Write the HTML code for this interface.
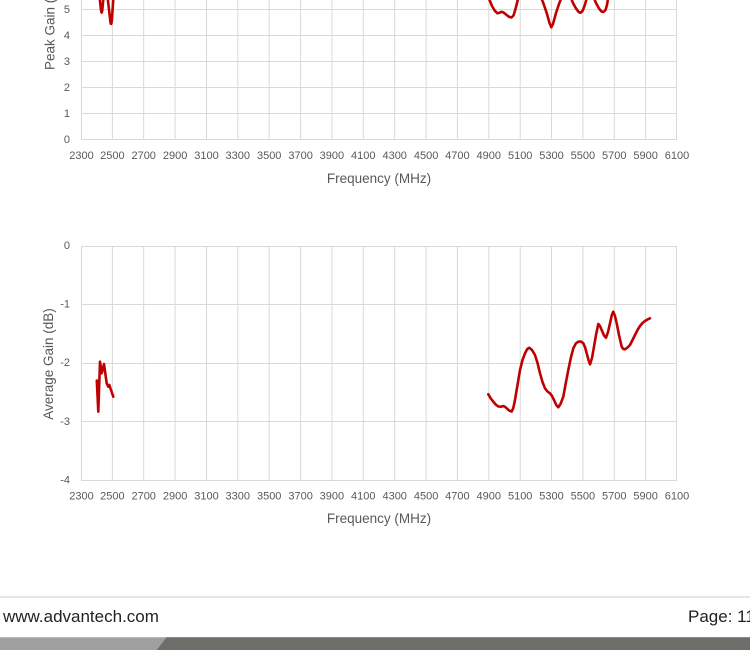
<!DOCTYPE html>
<html>
<head>
<meta charset="utf-8">
<style>
html,body{margin:0;padding:0;background:#fff;}
body{width:750px;height:650px;overflow:hidden;position:relative;}
svg{display:block;}
.t{font-family:"Liberation Sans",Arial,sans-serif;fill:#595959;}
</style>
</head>
<body>
<svg width="750" height="650" viewBox="0 0 750 650" xmlns="http://www.w3.org/2000/svg">
  <!-- ===== TOP CHART (Peak Gain) ===== -->
  <g stroke="#d9d9d9" stroke-width="1" fill="none">
    <!-- horizontal grid -->
    <line x1="81" y1="139.5" x2="677" y2="139.5"/>
    <line x1="81" y1="113.5" x2="677" y2="113.5"/>
    <line x1="81" y1="87.5" x2="677" y2="87.5"/>
    <line x1="81" y1="61.5" x2="677" y2="61.5"/>
    <line x1="81" y1="35.5" x2="677" y2="35.5"/>
    <line x1="81" y1="9.5" x2="677" y2="9.5"/>
    <!-- vertical grid -->
    <line x1="81.5" y1="-20" x2="81.5" y2="140"/>
    <line x1="112.4" y1="-20" x2="112.4" y2="140"/>
    <line x1="143.7" y1="-20" x2="143.7" y2="140"/>
    <line x1="175.1" y1="-20" x2="175.1" y2="140"/>
    <line x1="206.5" y1="-20" x2="206.5" y2="140"/>
    <line x1="237.8" y1="-20" x2="237.8" y2="140"/>
    <line x1="269.2" y1="-20" x2="269.2" y2="140"/>
    <line x1="300.6" y1="-20" x2="300.6" y2="140"/>
    <line x1="331.9" y1="-20" x2="331.9" y2="140"/>
    <line x1="363.3" y1="-20" x2="363.3" y2="140"/>
    <line x1="394.7" y1="-20" x2="394.7" y2="140"/>
    <line x1="426.1" y1="-20" x2="426.1" y2="140"/>
    <line x1="457.4" y1="-20" x2="457.4" y2="140"/>
    <line x1="488.8" y1="-20" x2="488.8" y2="140"/>
    <line x1="520.2" y1="-20" x2="520.2" y2="140"/>
    <line x1="551.5" y1="-20" x2="551.5" y2="140"/>
    <line x1="582.9" y1="-20" x2="582.9" y2="140"/>
    <line x1="614.3" y1="-20" x2="614.3" y2="140"/>
    <line x1="645.6" y1="-20" x2="645.6" y2="140"/>
    <line x1="676.5" y1="-20" x2="676.5" y2="140"/>
  </g>
  <!-- y tick labels top -->
  <g class="t" font-size="11" text-anchor="end" dominant-baseline="central">
    <text x="70" y="140">0</text>
    <text x="70" y="114">1</text>
    <text x="70" y="88">2</text>
    <text x="70" y="62">3</text>
    <text x="70" y="36">4</text>
    <text x="70" y="10">5</text>
  </g>
  <!-- x tick labels top -->
  <g class="t" font-size="11" text-anchor="middle" dominant-baseline="central">
    <text x="81.5" y="156">2300</text>
    <text x="112.4" y="156">2500</text>
    <text x="143.7" y="156">2700</text>
    <text x="175.1" y="156">2900</text>
    <text x="206.5" y="156">3100</text>
    <text x="237.8" y="156">3300</text>
    <text x="269.2" y="156">3500</text>
    <text x="300.6" y="156">3700</text>
    <text x="331.9" y="156">3900</text>
    <text x="363.3" y="156">4100</text>
    <text x="394.7" y="156">4300</text>
    <text x="426.1" y="156">4500</text>
    <text x="457.4" y="156">4700</text>
    <text x="488.8" y="156">4900</text>
    <text x="520.2" y="156">5100</text>
    <text x="551.5" y="156">5300</text>
    <text x="582.9" y="156">5500</text>
    <text x="614.3" y="156">5700</text>
    <text x="645.6" y="156">5900</text>
    <text x="677" y="156">6100</text>
  </g>
  <text class="t" font-size="13.5" x="379" y="178.5" text-anchor="middle" dominant-baseline="central">Frequency (MHz)</text>
  <text class="t" font-size="13.5" text-anchor="start" dominant-baseline="central" transform="translate(50,70) rotate(-90)">Peak Gain (dBi)</text>

  <!-- top curves -->
  <g stroke="#c00000" stroke-width="2.6" fill="none" stroke-linejoin="round" stroke-linecap="round">
    <path d="M99.2,-6 L101,10 Q101.6,15.5 102.3,10 L103.8,-6"/>
    <path d="M107.2,-6 L110.2,20 Q111,28 111.9,20 L113.6,-6"/>
    <polyline points="488.3,-3 492,6 495,11 497.5,13.3 499.5,12.8 501.5,11.8 503.5,12.5 506,14.5 509,16.8 511.5,17.5 513.5,15.5 515.5,9 517,3 518.5,-3"/>
    <polyline points="541,-3 544,5 547,14 549.5,23 551.3,27.3 553,24 556,13 559,4 561.7,-3"/>
    <polyline points="570.5,-3 573,3 576,8.5 578.5,11.8 580.5,12.8 582.5,11 584.5,6 586,1 587,-3"/>
    <polyline points="593.5,-3 596,3 599,8.5 601.5,11.5 603.5,12 605.5,10 607,5 608.3,-3"/>
  </g>

  <!-- ===== BOTTOM CHART (Average Gain) ===== -->
  <g stroke="#d9d9d9" stroke-width="1" fill="none">
    <line x1="81" y1="246.5" x2="677" y2="246.5"/>
    <line x1="81" y1="304.5" x2="677" y2="304.5"/>
    <line x1="81" y1="363.5" x2="677" y2="363.5"/>
    <line x1="81" y1="421.5" x2="677" y2="421.5"/>
    <line x1="81" y1="480.5" x2="677" y2="480.5"/>
    <line x1="81.5" y1="246" x2="81.5" y2="481"/>
    <line x1="112.4" y1="246" x2="112.4" y2="481"/>
    <line x1="143.7" y1="246" x2="143.7" y2="481"/>
    <line x1="175.1" y1="246" x2="175.1" y2="481"/>
    <line x1="206.5" y1="246" x2="206.5" y2="481"/>
    <line x1="237.8" y1="246" x2="237.8" y2="481"/>
    <line x1="269.2" y1="246" x2="269.2" y2="481"/>
    <line x1="300.6" y1="246" x2="300.6" y2="481"/>
    <line x1="331.9" y1="246" x2="331.9" y2="481"/>
    <line x1="363.3" y1="246" x2="363.3" y2="481"/>
    <line x1="394.7" y1="246" x2="394.7" y2="481"/>
    <line x1="426.1" y1="246" x2="426.1" y2="481"/>
    <line x1="457.4" y1="246" x2="457.4" y2="481"/>
    <line x1="488.8" y1="246" x2="488.8" y2="481"/>
    <line x1="520.2" y1="246" x2="520.2" y2="481"/>
    <line x1="551.5" y1="246" x2="551.5" y2="481"/>
    <line x1="582.9" y1="246" x2="582.9" y2="481"/>
    <line x1="614.3" y1="246" x2="614.3" y2="481"/>
    <line x1="645.6" y1="246" x2="645.6" y2="481"/>
    <line x1="676.5" y1="246" x2="676.5" y2="481"/>
  </g>
  <g class="t" font-size="11" text-anchor="end" dominant-baseline="central">
    <text x="70" y="246">0</text>
    <text x="70" y="304.6">-1</text>
    <text x="70" y="363.2">-2</text>
    <text x="70" y="421.8">-3</text>
    <text x="70" y="480.4">-4</text>
  </g>
  <g class="t" font-size="11" text-anchor="middle" dominant-baseline="central">
    <text x="81.5" y="496.7">2300</text>
    <text x="112.4" y="496.7">2500</text>
    <text x="143.7" y="496.7">2700</text>
    <text x="175.1" y="496.7">2900</text>
    <text x="206.5" y="496.7">3100</text>
    <text x="237.8" y="496.7">3300</text>
    <text x="269.2" y="496.7">3500</text>
    <text x="300.6" y="496.7">3700</text>
    <text x="331.9" y="496.7">3900</text>
    <text x="363.3" y="496.7">4100</text>
    <text x="394.7" y="496.7">4300</text>
    <text x="426.1" y="496.7">4500</text>
    <text x="457.4" y="496.7">4700</text>
    <text x="488.8" y="496.7">4900</text>
    <text x="520.2" y="496.7">5100</text>
    <text x="551.5" y="496.7">5300</text>
    <text x="582.9" y="496.7">5500</text>
    <text x="614.3" y="496.7">5700</text>
    <text x="645.6" y="496.7">5900</text>
    <text x="677" y="496.7">6100</text>
  </g>
  <text class="t" font-size="13.5" x="379" y="518.7" text-anchor="middle" dominant-baseline="central">Frequency (MHz)</text>
  <text class="t" font-size="13.5" text-anchor="middle" dominant-baseline="central" transform="translate(48.3,364) rotate(-90)">Average Gain (dB)</text>

  <g stroke="#c00000" stroke-width="2.6" fill="none" stroke-linejoin="round" stroke-linecap="round">
    <polyline points="96.8,380.5 98.3,411.7 100,361.7 101.7,373.3 104,364 106.7,383.3 108.3,386.7 109.3,385 113.3,396.7"/>
    <polyline points="488.3,394.3 490.8,398.5 493.3,401.7 495.8,404.6 498.3,406.5 501,406.7 503.3,406 505,406.8 506.7,408.3 509.3,410.6 511.7,411.5 513.3,408 515,400 517.5,385 520,370 522.5,360 525,353.3 527.3,349 529.3,347.7 532,350 535,355 537.5,363 540,373.3 542.5,382 545,388.3 547.5,391.5 550,393.3 552,396 554,400 556.3,405 558.3,407.3 560.5,404 563.3,396.7 565.8,383 568.3,370 570.8,358 573.3,348.3 575.8,343.5 578.3,341.7 581,341.5 583.3,343.3 585,347 586.7,353.3 588.5,360 590,364.3 592,358 594,346.7 596,335 598.3,324 600,326 601.7,330 604,335.5 606,337.7 608,332 610,323.3 611.8,315 613.3,311.7 615,316 616.7,323.3 619,335 621.7,346.7 623.3,349 625,349.3 627.5,347.5 630,345 632.5,340 635,335 637.5,330 640,326 642.5,323 645,321 647.5,319.5 650,318.3"/>
  </g>

  <!-- ===== FOOTER ===== -->
  <rect x="0" y="596" width="750" height="2" fill="#e6e6e6"/>
  <text x="3" y="622" font-family="'Liberation Sans',Arial,sans-serif" font-size="17" fill="#222">www.advantech.com</text>
  <text x="688" y="622" font-family="'Liberation Sans',Arial,sans-serif" font-size="17" fill="#222">Page: 11</text>
  <rect x="0" y="637" width="750" height="13" fill="#6e6e6a"/>
  <rect x="0" y="637" width="750" height="1" fill="#8a8a86"/>
  <polygon points="0,637 166.7,637 156.7,650 0,650" fill="#a0a0a0"/>
  <polygon points="0,637 166.7,637 165.9,638 0,638" fill="#b8b8b8"/>
</svg>
</body>
</html>
